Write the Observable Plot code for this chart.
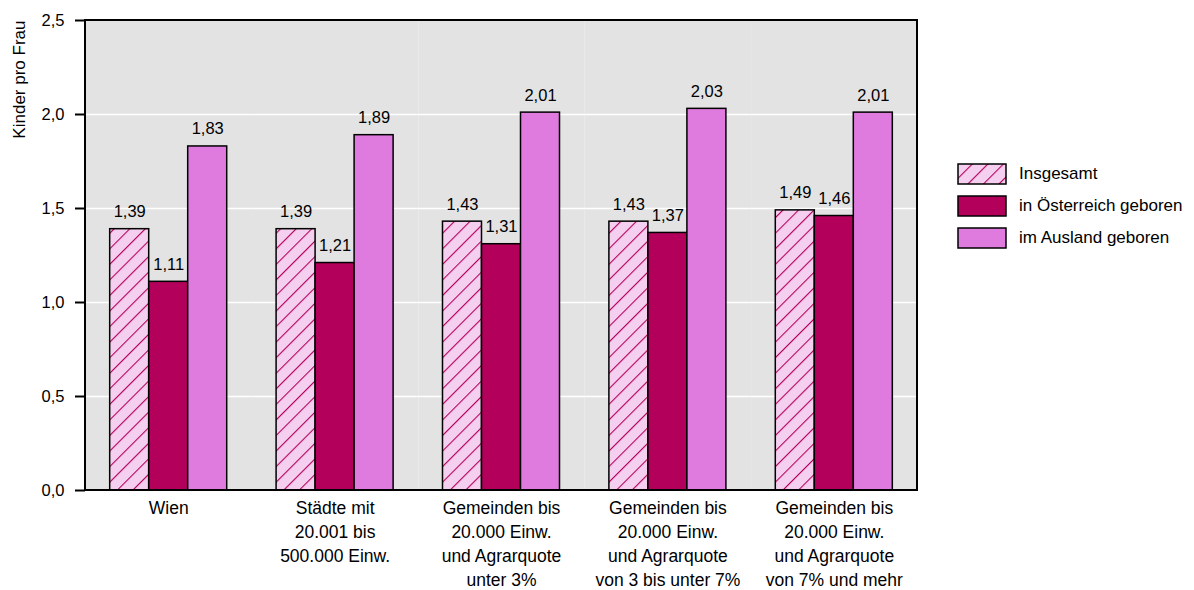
<!DOCTYPE html>
<html><head><meta charset="utf-8">
<script src="https://cdn.jsdelivr.net/npm/d3@7"></script>
<script src="https://cdn.jsdelivr.net/npm/@observablehq/plot@0.6"></script>
<style>
body{margin:0;background:#fff;font-family:"Liberation Sans",Arial,sans-serif;}
#wrap{position:relative;width:1194px;height:590px;}
#legend{position:absolute;left:957px;top:163px;font-size:17px;color:#000;}
.row{display:flex;align-items:center;height:22px;margin-bottom:10px;}
.row svg{margin-right:12px;display:block}
</style></head><body><div id="wrap"><div id="legend"></div></div>
<script>
const categories = [
  "Wien",
  "Städte mit\n20.001 bis\n500.000 Einw.",
  "Gemeinden bis\n20.000 Einw.\nund Agrarquote\nunter 3%",
  "Gemeinden bis\n20.000 Einw.\nund Agrarquote\nvon 3 bis unter 7%",
  "Gemeinden bis\n20.000 Einw.\nund Agrarquote\nvon 7% und mehr"
];
const seriesNames = ["Insgesamt", "in Österreich geboren", "im Ausland geboren"];
const insgesamt   = [1.39, 1.39, 1.43, 1.43, 1.49];
const oesterreich = [1.11, 1.21, 1.31, 1.37, 1.46];
const ausland     = [1.83, 1.89, 2.01, 2.03, 2.01];
const yTicks = [0, 0.5, 1.0, 1.5, 2.0, 2.5];
const yLabel = "Kinder pro Frau";
const seriesColors = ["url(#hatch)", "#b3005b", "#df7bdf"];

const seriesValues = [insgesamt, oesterreich, ausland];
const rows = categories.flatMap((c, i) => seriesNames.map((s, j) => ({cat: c, series: s, value: seriesValues[j][i]})));
const fmt2 = d => d.toFixed(2).replace(".", ",");
const fmt1 = d => d.toFixed(1).replace(".", ",");
const font = '"Liberation Sans", Arial, sans-serif';

const plot = Plot.plot({
  width: 940, height: 590,
  marginLeft: 85, marginRight: 23, marginTop: 20, marginBottom: 100,
  style: {fontFamily: font, fontSize: "16px", color: "#000", background: "transparent", overflow: "visible"},
  fx: {domain: categories, padding: 0, axis: null, round: false},
  x: {domain: seriesNames, paddingInner: 0, paddingOuter: 0.633, axis: null, round: false},
  y: {domain: [0, 2.5], axis: null},
  color: {domain: seriesNames, range: seriesColors},
  marks: [
    Plot.frame({fill: "#e3e3e3"}),
    Plot.ruleY(yTicks.slice(1, -1), {stroke: "white", strokeWidth: 1.5}),
    Plot.barY(rows, {fx: "cat", x: "series", y: "value", fill: "series", stroke: "black", strokeWidth: 1.5}),
    Plot.text(rows, {fx: "cat", x: "series", y: "value", text: d => fmt2(d.value), lineAnchor: "bottom", dy: -12, fontSize: 16.5, fill: "black"}),
    Plot.axisY({ticks: yTicks, tickFormat: fmt1, tickSize: 10, tickPadding: 11, strokeWidth: 2, label: null, fontSize: 16.5}),
    Plot.text(categories, {fx: d => d, text: d => d, frameAnchor: "bottom", lineAnchor: "top", dy: 7, lineHeight: 1.36, fontSize: 17.5, fill: "black"}),
    Plot.text([categories[0]], {fx: d => d, text: () => yLabel, frameAnchor: "top-left", rotate: -90, textAnchor: "end", dx: -73, dy: 0, fontSize: 17, fill: "black"})
  ]
});

const svg = d3.select(plot);
const defs = svg.insert("defs", ":first-child");
const pat = defs.append("pattern").attr("id", "hatch").attr("patternUnits", "userSpaceOnUse")
  .attr("width", 11).attr("height", 11).attr("patternTransform", "rotate(45)");
pat.append("rect").attr("width", 11).attr("height", 11).attr("fill", "#f4cff0");
pat.append("line").attr("x1", 0).attr("y1", 0).attr("x2", 0).attr("y2", 11).attr("stroke", "#b3005b").attr("stroke-width", 2.2);

// plot border
const fxR = plot.scale("fx").range, yR = plot.scale("y").range;
svg.append("rect").attr("x", fxR[0]).attr("y", Math.min(...yR)).attr("width", fxR[1] - fxR[0]).attr("height", Math.abs(yR[0] - yR[1]))
  .attr("fill", "none").attr("stroke", "black").attr("stroke-width", 2);

const wrap = document.getElementById("wrap");
wrap.insertBefore(plot, wrap.firstChild);

const legend = d3.select("#legend");
seriesNames.forEach((s, j) => {
  const row = legend.append("div").attr("class", "row");
  const sw = row.append("svg").attr("width", 50).attr("height", 22);
  sw.append("rect").attr("x", 1).attr("y", 1).attr("width", 48).attr("height", 20).attr("fill", seriesColors[j]).attr("stroke", "black").attr("stroke-width", 1.5);
  row.append("span").text(s);
});
</script></body></html>
